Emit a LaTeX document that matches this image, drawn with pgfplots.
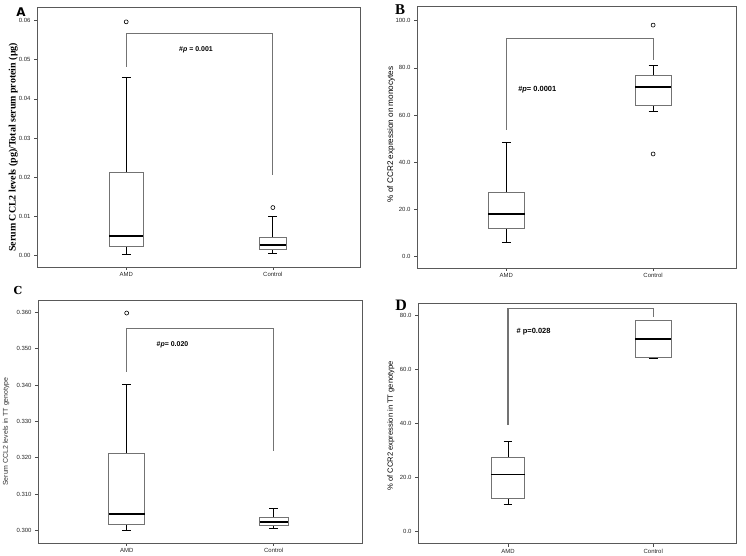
\documentclass[border=0pt]{standalone}
\usepackage{fontspec}
\setmainfont{Liberation Sans}
\newfontfamily\timesfont{Liberation Serif}
\newfontfamily\djsans{DejaVu Sans}
\newfontfamily\djserif{DejaVu Serif}
\usepackage{pgfplots}
\pgfplotsset{compat=1.18}
\usepgfplotslibrary{statistics}

\pgfplotsset{
 spss/.style={
   scale only axis,
   anchor=south west,
   clip=false,
   axis line style={black!65, line width=0.8bp},
   tick style={black!70, line width=0.6bp},
   tick align=outside,
   major tick length=3bp,
   xtick={1,2}, xticklabels={AMD,Control},
   ytick pos=left, xtick pos=bottom,
   tick label style={font=\fontsize{6}{7}\selectfont, text=black!85},
   xticklabel style={yshift=1bp},
   /pgf/number format/assume math mode=true,
   boxplot/draw direction=y,
 },
 bxp/.style={black, line width=0.8bp, mark=o, mark size=2bp,
   mark options={black, line width=0.6bp, fill=white},
   boxplot/every box/.style={draw=black!55, line width=0.7bp, fill=white},
   boxplot/every median/.style={black, line width=1.6bp},
   boxplot/every whisker/.style={black, line width=0.9bp}},
 brk/.style={black!55, line width=1.1bp, mark=none},
}

\begin{document}
\begin{tikzpicture}[x=1bp,y=1bp]
\path[use as bounding box] (0,0) rectangle (746,556);

% ---------------- A ----------------
\begin{axis}[spss, at={(37bp,289bp)}, width=323bp, height=260bp,
  xmin=0.392, xmax=2.594, ymin=-0.003, ymax=0.0635,
  ytick={0,0.01,0.02,0.03,0.04,0.05,0.06},
  yticklabels={0.00,0.01,0.02,0.03,0.04,0.05,0.06},
  ylabel={Serum CCL2 levels (pg)/Total serum protein (μg)},
  ylabel style={at={(axis description cs:-0.0734,0.46)}, anchor=center,
    font=\timesfont\bfseries\fontsize{10}{11}\selectfont}]
\addplot[bxp, boxplot prepared={lower whisker=0.0003, lower quartile=0.0022,
  median=0.0050, upper quartile=0.0211, upper whisker=0.0455,
  draw position=1, box extend=0.23, whisker extend=0.06}]
  coordinates {(1,0.0597)};
\addplot[bxp, boxplot prepared={lower whisker=0.0005, lower quartile=0.0014,
  median=0.0026, upper quartile=0.0047, upper whisker=0.0098,
  draw position=2, box extend=0.18, whisker extend=0.06}]
  coordinates {(2,0.0122)};
\addplot[brk] coordinates {(1,0.0482) (1,0.0568) (2,0.0568) (2,0.0205)};
\node[font=\bfseries\fontsize{7}{8}\selectfont] at (axis cs:1.476,0.0525) {\#\textit{p} = 0.001};
\end{axis}

% ---------------- B ----------------
\begin{axis}[spss, at={(417bp,288bp)}, width=319bp, height=262bp,
  xmin=0.391, xmax=2.565, ymin=-4.8, ymax=106.2,
  ytick={0,20,40,60,80,100},
  yticklabels={0.0,20.0,40.0,60.0,80.0,100.0},
  ylabel={\% of CCR2 expression on monocytes},
  ylabel style={at={(axis description cs:-0.0815,0.51)}, anchor=center,
    font=\fontsize{8.2}{9}\selectfont}]
\addplot[bxp, boxplot prepared={lower whisker=6.2, lower quartile=12.0,
  median=18.0, upper quartile=27.3, upper whisker=48.5,
  draw position=1, box extend=0.25, whisker extend=0.06}]
  coordinates {};
\addplot[bxp, boxplot prepared={lower whisker=61.4, lower quartile=63.9,
  median=71.8, upper quartile=77.0, upper whisker=80.9,
  draw position=2, box extend=0.245, whisker extend=0.06}]
  coordinates {(2,98.1) (2,43.5)};
\addplot[brk] coordinates {(1,53.7) (1,92.6) (2,92.6) (2,83.4)};
\node[anchor=west, font=\bfseries\fontsize{7.5}{8}\selectfont] at (axis cs:1.057,70.9) {\#\textit{p}= 0.0001};
\end{axis}

% ---------------- C ----------------
\begin{axis}[spss, at={(38bp,13bp)}, width=324bp, height=242.3bp,
  xmin=0.397, xmax=2.6, ymin=0.2965, ymax=0.3632,
  ytick={0.30,0.31,0.32,0.33,0.34,0.35,0.36},
  yticklabels={0.300,0.310,0.320,0.330,0.340,0.350,0.360},
  ylabel={Serum CCL2 levels in TT genotype},
  ylabel style={at={(axis description cs:-0.0988,0.46)}, anchor=center,
    font=\fontsize{7}{8}\selectfont, text=black!80}]
\addplot[bxp, boxplot prepared={lower whisker=0.3000, lower quartile=0.30155,
  median=0.3044, upper quartile=0.3211, upper whisker=0.3402,
  draw position=1, box extend=0.243, whisker extend=0.06}]
  coordinates {(1,0.3598)};
\addplot[bxp, boxplot prepared={lower whisker=0.30044, lower quartile=0.30138,
  median=0.3022, upper quartile=0.30358, upper whisker=0.30595,
  draw position=2, box extend=0.193, whisker extend=0.06}]
  coordinates {};
\addplot[brk] coordinates {(1,0.3436) (1,0.3555) (2,0.3555) (2,0.3217)};
\node[anchor=west, font=\bfseries\fontsize{7}{8}\selectfont] at (axis cs:1.18,0.3511) {\#\textit{p}= 0.020};
\end{axis}

% ---------------- D ----------------
\begin{axis}[spss, at={(418bp,12.3bp)}, width=318bp, height=240.7bp,
  xmin=0.38, xmax=2.57, ymin=-4.6, ymax=84.6,
  ytick={0,20,40,60,80},
  yticklabels={0.0,20.0,40.0,60.0,80.0},
  ylabel={\% of CCR2 expression in TT genotype},
  ylabel style={at={(axis description cs:-0.085,0.49)}, anchor=center,
    font=\fontsize{7.6}{8}\selectfont}]
\addplot[bxp, boxplot prepared={lower whisker=9.85, lower quartile=12.2,
  median=21.0, upper quartile=27.5, upper whisker=33.2,
  draw position=1, box extend=0.23, whisker extend=0.06}]
  coordinates {};
\addplot[bxp, boxplot prepared={lower whisker=64.2, lower quartile=64.4,
  median=71.2, upper quartile=78.0, upper whisker=78.3,
  draw position=2, box extend=0.25, whisker extend=0.06}]
  coordinates {};
\addplot[brk] coordinates {(1,39.5) (1,82.4) (2,82.4) (2,79.4)};
\node[anchor=west, font=\bfseries\fontsize{7.5}{8}\selectfont] at (axis cs:1.035,74.1) {\# p=0.028};
\end{axis}

% panel letters
\node[inner sep=0pt, font=\djsans\bfseries\fontsize{12}{12}\selectfont] at (21,544) {A};
\node[inner sep=0pt, font=\timesfont\bfseries\fontsize{15}{15}\selectfont] at (400,546.5) {B};
\node[inner sep=0pt, font=\djserif\bfseries\fontsize{11}{11}\selectfont] at (18,265) {C};
\node[inner sep=0pt, font=\timesfont\bfseries\fontsize{16}{16}\selectfont] at (401,251) {D};
\end{tikzpicture}
\end{document}
